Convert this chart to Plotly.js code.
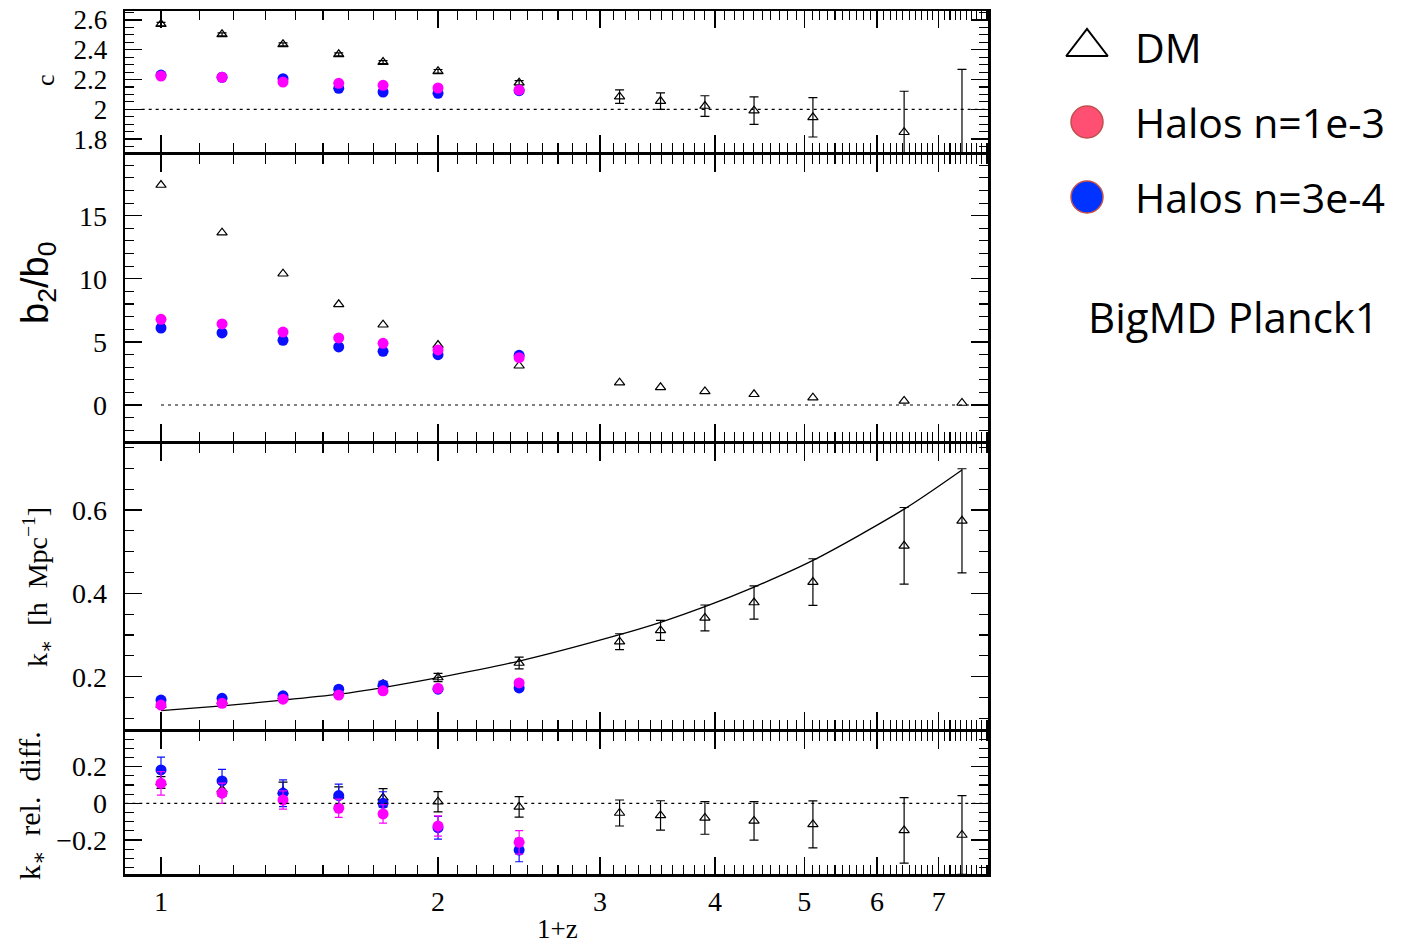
<!DOCTYPE html>
<html>
<head>
<meta charset="utf-8">
<script src="https://cdn.plot.ly/plotly-3.0.1.min.js"></script>
<style>html,body{margin:0;padding:0;background:#fff;}#chart{width:1406px;height:946px;}</style>
</head>
<body>
<div id="chart"></div>
<script>
// ---------- data ----------
const onePlusZ      = [1.0, 1.165, 1.357, 1.56, 1.743, 2.0, 2.45, 3.15, 3.49, 3.9, 4.41, 5.11, 6.42, 7.42];
const onePlusZHalos = [1.0, 1.165, 1.357, 1.56, 1.743, 2.0, 2.45];

// panel 1 : c
const cDM      = [2.572, 2.503, 2.436, 2.369, 2.317, 2.255, 2.178, 2.085, 2.055, 2.022, 1.991, 1.946, 1.846, 1.62];
const cDMErr   = [0.012, 0.010, 0.010, 0.010, 0.010, 0.012, 0.015, 0.045, 0.055, 0.069, 0.092, 0.132, 0.275, 0.648];
const cHalo1e3 = [2.2235, 2.215, 2.183, 2.174, 2.161, 2.143, 2.130];
const cHalo3e4 = [2.230, 2.215, 2.205, 2.141, 2.116, 2.107, 2.125];

// panel 2 : b2/b0
const bDM      = [17.43, 13.65, 10.40, 7.98, 6.36, 4.75, 3.11, 1.77, 1.40, 1.08, 0.85, 0.58, 0.32, 0.16];
const bHalo1e3 = [6.79, 6.42, 5.78, 5.31, 4.89, 4.36, 3.75];
const bHalo3e4 = [6.10, 5.71, 5.13, 4.60, 4.25, 3.99, 3.94];

// panel 3 : k*
const kDM      = [0.132, 0.141, 0.153, 0.164, 0.182, 0.198, 0.2328, 0.284, 0.311, 0.341, 0.378, 0.427, 0.514, 0.574];
const kDMErr   = [0.005, 0.005, 0.005, 0.006, 0.007, 0.010, 0.014, 0.019, 0.024, 0.031, 0.040, 0.056, 0.092, 0.125];
const kHalo1e3 = [0.132, 0.136, 0.146, 0.156, 0.166, 0.172, 0.185];
const kHalo3e4 = [0.144, 0.148, 0.154, 0.170, 0.180, 0.170, 0.173];
const kHaloErr = [0.006, 0.006, 0.006, 0.006, 0.006, 0.007, 0.008];
const kFit     = [0.1184, 0.130, 0.1437, 0.158, 0.174, 0.1976, 0.2376, 0.301, 0.3306, 0.368, 0.415, 0.479, 0.602, 0.696];

// panel 4 : k* relative difference
const dDM         = [0.113, 0.075, 0.065, 0.040, 0.030, 0.0085, -0.020, -0.053, -0.066, -0.080, -0.096, -0.115, -0.148, -0.173];
const dDMErr      = [0.032, 0.036, 0.050, 0.050, 0.050, 0.055, 0.056, 0.071, 0.080, 0.089, 0.105, 0.128, 0.179, 0.215];
const dHalo1e3    = [0.109, 0.055, 0.018, -0.027, -0.058, -0.124, -0.213];
const dHalo1e3Err = [0.064, 0.055, 0.050, 0.050, 0.050, 0.055, 0.064];
const dHalo3e4    = [0.182, 0.122, 0.055, 0.042, 0.000, -0.133, -0.255];
const dHalo3e4Err = [0.070, 0.063, 0.073, 0.063, 0.063, 0.062, 0.064];

// reference (dotted) levels
const refC = 2, refB = 0, refD = 0;

// tick labels
const xTickVals = [1, 2, 3, 4, 5, 6, 7];
const xTickText = ['1', '2', '3', '4', '5', '6', '7'];
const cTickVals = [1.8, 2, 2.2, 2.4, 2.6];
const cTickText = ['1.8', '2', '2.2', '2.4', '2.6'];
const bTickVals = [0, 5, 10, 15];
const bTickText = ['0', '5', '10', '15'];
const kTickVals = [0.2, 0.4, 0.6];
const kTickText = ['0.2', '0.4', '0.6'];
const dTickVals = [-0.2, 0, 0.2];
const dTickText = ['\u22120.2', '0', '0.2'];

// legend
const legendNames = ['DM', 'Halos n=1e-3', 'Halos n=3e-4'];
const legendRows  = [0, 1, 2];
const simLabel    = 'BigMD Planck1';

// ---------- styling ----------
const MAG = '#ff00ff', BLU = '#0a10ff', BLK = '#000000';
const serif = 'Liberation Serif, DejaVu Serif, serif';
const LW = 2.6;

const xMinor = [];
for (let d = 1; d <= 7; d++) for (let f = 1; f <= 9; f++) xMinor.push(+(d + f / 10).toFixed(1));

const H = 946, W = 1406;
const dom = (topPx, botPx) => [1 - botPx / H, 1 - topPx / H];
const xRange = [-0.0388, 0.8989];

function xAxis(anchor, labels) {
  return {
    type: 'log', range: xRange, anchor: anchor, domain: [125.3 / W, 988.2 / W],
    showgrid: false, zeroline: false, showline: true, linewidth: LW, linecolor: BLK,
    mirror: 'allticks', ticks: 'inside', ticklen: 17, tickwidth: 1.3, tickcolor: BLK,
    tickmode: 'array', tickvals: xTickVals, ticktext: xTickText,
    showticklabels: labels, ticklabelstandoff: 0,
    tickfont: {family: serif, size: 28, color: BLK},
    minor: {tickmode: 'array', tickvals: xMinor, ticks: 'inside', ticklen: 9, tickwidth: 1.1, tickcolor: BLK, showgrid: false}
  };
}
function yAxis(anchor, domain, range, tv, tt, minorDt, fs) {
  return {
    range: range, anchor: anchor, domain: domain,
    showgrid: false, zeroline: false, showline: true, linewidth: LW, linecolor: BLK,
    mirror: 'allticks', ticks: 'inside', ticklen: 17, tickwidth: 1.3, tickcolor: BLK,
    tickmode: 'array', tickvals: tv, ticktext: tt, ticklabelstandoff: 10,
    tickfont: {family: serif, size: fs, color: BLK},
    minor: {dtick: minorDt, ticks: 'inside', ticklen: 9, tickwidth: 1.1, tickcolor: BLK, showgrid: false}
  };
}

function dmTrace(xa, ya, y, err) {
  const t = {x: onePlusZ, y: y, xaxis: xa, yaxis: ya, mode: 'markers', type: 'scatter',
    marker: {symbol: 'triangle-up-open', size: 9, color: BLK, line: {width: 1.2, color: BLK}}, hoverinfo: 'skip'};
  if (err) t.error_y = {type: 'data', array: err, visible: true, color: BLK, thickness: 1.2, width: 4.5};
  return t;
}
function haloTrace(xa, ya, y, color, err) {
  const t = {x: onePlusZHalos, y: y, xaxis: xa, yaxis: ya, mode: 'markers', type: 'scatter',
    marker: {symbol: 'circle', size: 11, color: color, line: {width: 0}}, hoverinfo: 'skip'};
  if (err) t.error_y = {type: 'data', array: err, visible: true, color: color, thickness: 1.2, width: 4};
  return t;
}

const traces = [
  // panel 1
  dmTrace('x', 'y', cDM, cDMErr),
  haloTrace('x', 'y', cHalo3e4, BLU),
  haloTrace('x', 'y', cHalo1e3, MAG),
  // panel 2
  dmTrace('x2', 'y2', bDM, null),
  haloTrace('x2', 'y2', bHalo3e4, BLU),
  haloTrace('x2', 'y2', bHalo1e3, MAG),
  // panel 3
  {x: onePlusZ, y: kFit, xaxis: 'x3', yaxis: 'y3', mode: 'lines', type: 'scatter',
   line: {color: BLK, width: 1.3, shape: 'spline', smoothing: 0.8}, hoverinfo: 'skip'},
  dmTrace('x3', 'y3', kDM, kDMErr),
  haloTrace('x3', 'y3', kHalo3e4, BLU, kHaloErr),
  haloTrace('x3', 'y3', kHalo1e3, MAG, kHaloErr),
  // panel 4
  dmTrace('x4', 'y4', dDM, dDMErr),
  haloTrace('x4', 'y4', dHalo3e4, BLU, dHalo3e4Err),
  haloTrace('x4', 'y4', dHalo1e3, MAG, dHalo1e3Err),
  // legend markers
  {x: [0], y: [legendRows[0]], xaxis: 'x5', yaxis: 'y5', mode: 'markers', type: 'scatter', hoverinfo: 'skip',
   marker: {symbol: 'triangle-up-open', size: 36, color: BLK, line: {width: 2, color: BLK}}},
  {x: [0], y: [legendRows[1]], xaxis: 'x5', yaxis: 'y5', mode: 'markers', type: 'scatter', hoverinfo: 'skip',
   marker: {symbol: 'circle', size: 32, color: '#ff4f72', line: {width: 1.5, color: '#c0504d'}}},
  {x: [0], y: [legendRows[2]], xaxis: 'x5', yaxis: 'y5', mode: 'markers', type: 'scatter', hoverinfo: 'skip',
   marker: {symbol: 'circle', size: 32, color: '#0033ff', line: {width: 1.5, color: '#c0504d'}}}
];

const dotted = {color: BLK, width: 1.2, dash: '3px,4px'};
const shapes = [
  {type: 'line', xref: 'x domain', yref: 'y', x0: 0.019, x1: 1, y0: refC, y1: refC, line: dotted},
  {type: 'line', xref: 'x2', yref: 'y2', x0: onePlusZ[0], x1: 7.94, y0: refB, y1: refB, line: dotted},
  {type: 'line', xref: 'x4 domain', yref: 'y4', x0: 0, x1: 1, y0: refD, y1: refD, line: dotted}
];

const ann = (text, x, y, size, family, angle, extra) => Object.assign({
  text: text, xref: 'paper', yref: 'paper', x: x, y: y, showarrow: false,
  textangle: angle || 0, font: {family: family, size: size, color: BLK},
  xanchor: 'center', yanchor: 'middle'
}, extra || {});

const annotations = [
  ann('c', 46 / W, 1 - 80 / H, 26, serif, -90),
  ann('b<sub>2</sub>/b<sub>0</sub>', 38 / W, 1 - 283 / H, 38, 'Liberation Sans, Arial, sans-serif', -90),
  ann('k<sub>\u2217</sub>  [h  Mpc<sup>\u22121</sup>]', 37 / W, 1 - 587 / H, 28, serif, -90),
  ann('k<sub>\u2217</sub>  rel.  diff.', 32 / W, 1 - 806 / H, 30, serif, -90),
  ann('1+z', 557 / W, 1 - 929 / H, 27, serif, 0),
  ann(simLabel, 1233 / W, 1 - 316 / H, 42, 'Open Sans, sans-serif', 0)
];
legendNames.forEach((nm, i) => annotations.push({
  text: nm, xref: 'paper', yref: 'y5', x: 1133 / W, y: legendRows[i], showarrow: false,
  xanchor: 'left', yanchor: 'middle', font: {family: 'Open Sans, sans-serif', size: 41, color: BLK}
}));

const layout = {
  width: W, height: H, margin: {l: 0, r: 0, t: 0, b: 0},
  paper_bgcolor: '#ffffff', plot_bgcolor: '#ffffff', showlegend: false,
  xaxis:  xAxis('y', false),
  xaxis2: xAxis('y2', false),
  xaxis3: xAxis('y3', false),
  xaxis4: xAxis('y4', true),
  yaxis:  yAxis('x',  dom(11.3, 152),    [1.7134, 2.6577], cTickVals, cTickText, 0.05, 27),
  yaxis2: yAxis('x2', dom(154.6, 441.4), [-2.884, 19.84],  bTickVals, bTickText, 1, 28),
  yaxis3: yAxis('x3', dom(444, 729.4),   [0.0735, 0.7584], kTickVals, kTickText, 0.05, 28),
  yaxis4: yAxis('x4', dom(732, 874.4),   [-0.388, 0.389],  dTickVals, dTickText, 0.05, 28),
  xaxis5: {domain: [1057 / W, 1117 / W], range: [-1, 1], anchor: 'y5', visible: false, fixedrange: true},
  yaxis5: {domain: dom(9.5, 234.5), range: [2.5, -0.5], anchor: 'x5', visible: false, fixedrange: true},
  shapes: shapes,
  annotations: annotations
};

Plotly.newPlot('chart', traces, layout, {staticPlot: true, displayModeBar: false});
</script>
</body>
</html>
